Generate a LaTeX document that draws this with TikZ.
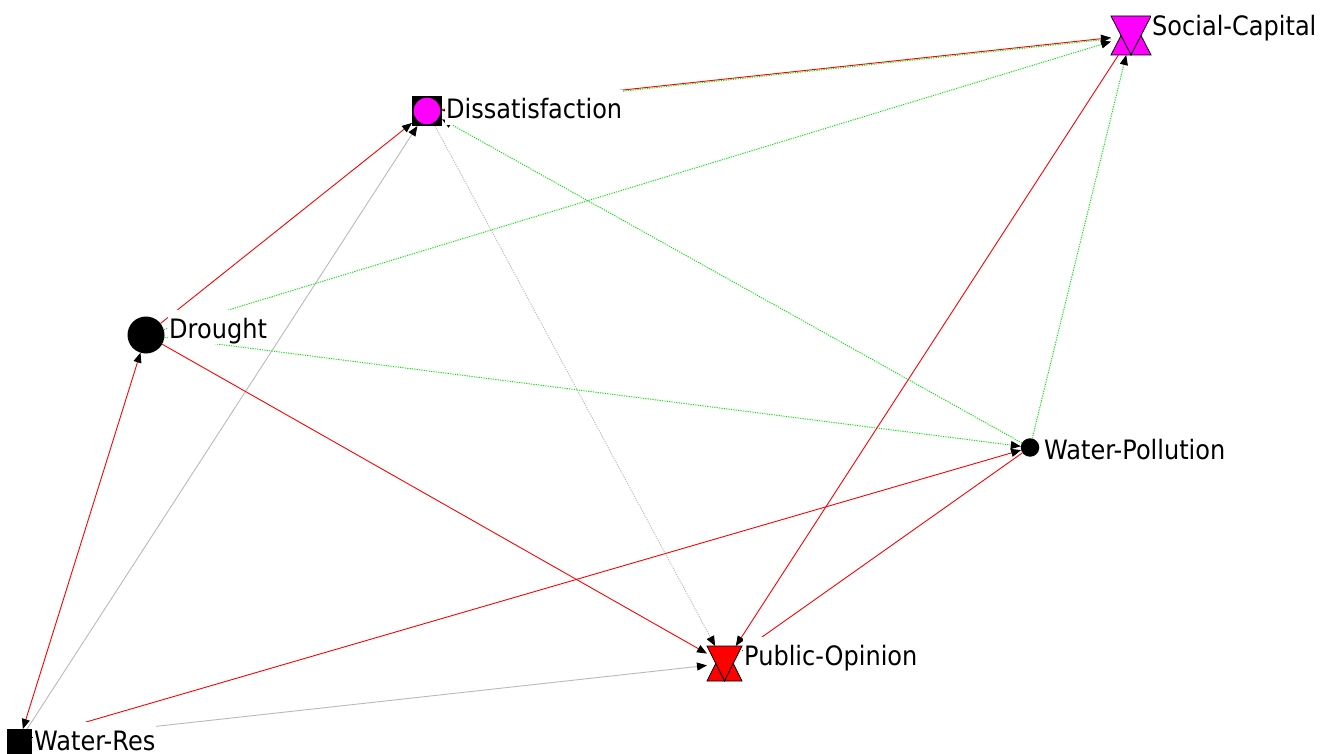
\documentclass[tikz,border=0pt]{standalone}
\usepackage{fontspec}
\setmainfont{DejaVu Sans}[FakeStretch=0.9]
\usetikzlibrary{arrows.meta,calc}
\definecolor{netred}{RGB}{255,0,0}
\definecolor{netgreen}{RGB}{0,230,0}
\definecolor{netgray}{RGB}{185,185,185}
\definecolor{netpink}{RGB}{255,0,255}

\begin{document}
\begin{tikzpicture}[x=1pt, y=-1pt,
    >={Triangle[length=10pt,width=8pt,color=black,fill=black]},
    actor/.style={inner sep=0pt, outer sep=0pt, line width=0.8pt},
    actorlabel/.style={anchor=base west, fill=white, inner xsep=1pt, inner ysep=3pt, text height=25.5pt, text depth=3pt, font=\fontsize{26.7}{30}\selectfont},
    tie/.style={line width=0.9pt, ->},
    redtie/.style={tie, draw=netred},
    greentie/.style={tie, draw=netgreen, dash pattern=on 1.2pt off 1.2pt},
    graytie/.style={tie, draw=netgray}
  ]
  \useasboundingbox (0,0) rectangle (1326,754);

  % actors
  \node[actor, circle, fill=black, minimum size=37pt] (drought) at (146,335) {};
  \node[actor, circle, fill=black, minimum size=18.5pt] (wp) at (1030,447.5) {};
  \node[actor, rectangle, fill=black, minimum size=25pt] (wres) at (19,741.5) {};
  \node[actor, rectangle, fill=black, minimum size=30pt] (diss) at (427,111) {};
  \fill[netpink] (diss) circle (13.3pt);
  \node[actor, rectangle, minimum width=40pt, minimum height=39pt] (sc) at (1131,35.5) {};
  \node[actor, rectangle, minimum width=35pt, minimum height=35pt] (po) at (724.5,663.5) {};
  \foreach \n/\c in {sc/netpink, po/netred} {
    \filldraw[fill=\c, line width=0.8pt] (\n.north west) -- (\n.north east) -- (\n.south) -- cycle;
    \filldraw[fill=\c, line width=0.8pt] (\n.south west) -- (\n.south) -- ($(\n.north west)!.5!(\n.south)$) -- cycle;
    \filldraw[fill=\c, line width=0.8pt] (\n.south) -- (\n.south east) -- ($(\n.north east)!.5!(\n.south)$) -- cycle;
  }

  % ties
  \draw[redtie] (drought) -- (diss);
  \draw[graytie] (wres) -- (diss);
  \draw[graytie, dash pattern=on 1.2pt off 1.2pt] (diss) -- (po);
  \draw[greentie] (wp) -- (diss);
  \draw[greentie, transform canvas={yshift=-1.2pt}] (sc) -- (diss);
  \draw[redtie] (diss) -- (sc);
  \draw[greentie] (drought) -- (sc);
  \draw[greentie] (drought) -- (wp);
  \draw[redtie] (drought) -- (po);
  \draw[redtie, <->] (wres) -- (drought);
  \draw[redtie, <->] (wres) -- (wp);
  \draw[graytie] (wres) -- (po);
  \draw[greentie] (wp) -- (sc);
  \draw[redtie] (sc) -- (po);
  \draw[redtie] (wp) -- (po);

  % labels
  \node[actorlabel] (lblsc) at (1151,36) {Social-Capital};
  \node[actorlabel] (lbldiss) at (445,119) {Dissatisfaction};
  \node[actorlabel] (lbldrought) at (168,338) {Drought};
  \node[actorlabel] (lblwp) at (1043,459) {Water-Pollution};
  \node[actorlabel] (lblpo) at (743,665) {Public-Opinion};
  \node[actorlabel] (lblwres) at (33,750) {Water-Res};
\end{tikzpicture}
\end{document}
